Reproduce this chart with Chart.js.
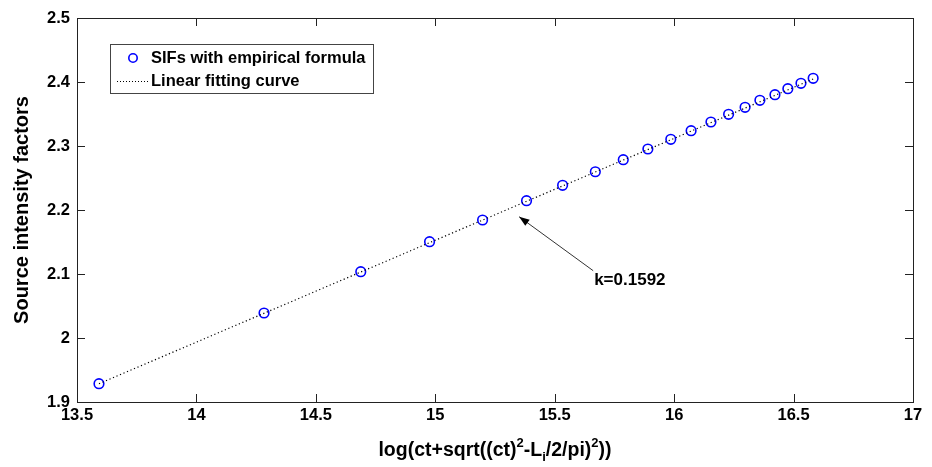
<!DOCTYPE html>
<html>
<head>
<meta charset="utf-8">
<script src="https://cdn.jsdelivr.net/npm/chart.js@4.4.0/dist/chart.umd.min.js"></script>
<style>
  html, body { margin: 0; padding: 0; background: #fff; }
  #wrap { width: 932px; height: 467px; }
</style>
</head>
<body>
<div id="wrap"><canvas id="canvas"></canvas></div>
<script>
// values
const sifX = [13.592, 14.283, 14.688, 14.976, 15.198, 15.382, 15.533, 15.670, 15.787, 15.890,
  15.986, 16.071, 16.154, 16.228, 16.297, 16.359, 16.422, 16.476, 16.531, 16.582];
const sifY = [1.9286, 2.0391, 2.1036, 2.1505, 2.1844, 2.2145, 2.2386, 2.2598, 2.2786, 2.2953,
  2.3105, 2.3239, 2.3375, 2.3495, 2.3605, 2.3714, 2.3802, 2.3895, 2.3980, 2.4058];
const fitX = [13.592, 16.582];
const fitY = [1.9286, 2.4046];

const xTicks = [13.5, 14, 14.5, 15, 15.5, 16, 16.5, 17];
const yTicks = [1.9, 2, 2.1, 2.2, 2.3, 2.4, 2.5];

const seriesNames = ['SIFs with empirical formula', 'Linear fitting curve'];
const yTitle = 'Source intensity factors';
const kLabel = 'k=0.1592';
const arrowTip = { x: 15.351, y: 2.1895 };
const arrowTail = { x: 15.661, y: 2.1052 };

const boldFont = '"Liberation Sans", Arial, sans-serif';

const toPoints = (xs, ys) => xs.map((x, i) => ({ x: x, y: ys[i] }));

// MATLAB style box, inward ticks, legend, annotation, axis titles
const extras = {
  id: 'extras',
  afterDatasetsDraw(chart) {
    const ctx = chart.ctx;
    const a = chart.chartArea;
    const xs = chart.scales.x;
    const ys = chart.scales.y;
    ctx.save();

    // box
    ctx.strokeStyle = '#222';
    ctx.lineWidth = 1;
    ctx.strokeRect(a.left + 0.5, a.top + 0.5, a.right - a.left, a.bottom - a.top);

    // inward ticks
    const tl = 8;
    ctx.beginPath();
    xTicks.forEach((t) => {
      const px = Math.round(xs.getPixelForValue(t)) + 0.5;
      ctx.moveTo(px, a.bottom); ctx.lineTo(px, a.bottom - tl);
      ctx.moveTo(px, a.top); ctx.lineTo(px, a.top + tl);
    });
    yTicks.forEach((t) => {
      const py = Math.round(ys.getPixelForValue(t)) + 0.5;
      ctx.moveTo(a.left, py); ctx.lineTo(a.left + tl, py);
      ctx.moveTo(a.right, py); ctx.lineTo(a.right - tl, py);
    });
    ctx.stroke();

    // legend
    const lx = 110, ly = 44, lw = 263, lh = 49;
    ctx.fillStyle = '#fff';
    ctx.fillRect(lx, ly, lw, lh);
    ctx.strokeStyle = '#444';
    ctx.strokeRect(lx + 0.5, ly + 0.5, lw, lh);
    ctx.strokeStyle = '#0000ff';
    ctx.lineWidth = 1.6;
    ctx.beginPath();
    ctx.arc(133, 58, 4.2, 0, Math.PI * 2);
    ctx.stroke();
    ctx.strokeStyle = '#000';
    ctx.lineWidth = 1;
    ctx.setLineDash([1, 2]);
    ctx.beginPath();
    ctx.moveTo(117, 81.5); ctx.lineTo(150, 81.5);
    ctx.stroke();
    ctx.setLineDash([]);
    ctx.fillStyle = '#000';
    ctx.font = 'bold 16.5px ' + boldFont;
    ctx.textBaseline = 'middle';
    ctx.textAlign = 'left';
    ctx.fillText(seriesNames[0], 151, 58);
    ctx.fillText(seriesNames[1], 151, 81);

    // arrow annotation
    const tx = xs.getPixelForValue(arrowTip.x), ty = ys.getPixelForValue(arrowTip.y);
    const sx = xs.getPixelForValue(arrowTail.x), sy = ys.getPixelForValue(arrowTail.y);
    ctx.strokeStyle = '#333';
    ctx.lineWidth = 1;
    ctx.beginPath();
    ctx.moveTo(sx, sy); ctx.lineTo(tx, ty);
    ctx.stroke();
    const ang = Math.atan2(ty - sy, tx - sx);
    ctx.fillStyle = '#000';
    ctx.beginPath();
    ctx.moveTo(tx, ty);
    ctx.lineTo(tx - 11 * Math.cos(ang - 0.35), ty - 11 * Math.sin(ang - 0.35));
    ctx.lineTo(tx - 11 * Math.cos(ang + 0.35), ty - 11 * Math.sin(ang + 0.35));
    ctx.closePath();
    ctx.fill();
    ctx.font = 'bold 17px ' + boldFont;
    ctx.fillText(kLabel, sx + 1, sy + 10);

    // y title
    ctx.save();
    ctx.translate(22, 210);
    ctx.rotate(-Math.PI / 2);
    ctx.textAlign = 'center';
    ctx.font = 'bold 20px ' + boldFont;
    ctx.fillText(yTitle, 0, 0);
    ctx.restore();

    // x title with super/subscripts
    const parts = [
      ['log(ct+sqrt((ct)', 0], ['2', -1], ['-L', 0], ['i', 1], ['/2/pi)', 0], ['2', -1], ['))', 0]
    ];
    const big = 'bold 19.5px ' + boldFont;
    const small = 'bold 13px ' + boldFont;
    let total = 0;
    parts.forEach((p) => {
      ctx.font = p[1] === 0 ? big : small;
      total += ctx.measureText(p[0]).width;
    });
    let cx = 495 - total / 2;
    const base = 451;
    ctx.textAlign = 'left';
    parts.forEach((p) => {
      ctx.font = p[1] === 0 ? big : small;
      const dy = p[1] === -1 ? -8 : p[1] === 1 ? 6 : 0;
      ctx.fillText(p[0], cx, base + dy);
      cx += ctx.measureText(p[0]).width;
    });

    ctx.restore();
  }
};

const config = {
  type: 'scatter',
  data: {
    datasets: [
      {
        label: seriesNames[1],
        data: toPoints(fitX, fitY),
        showLine: true,
        borderColor: '#000',
        borderWidth: 1.2,
        borderDash: [1.2, 2.6],
        pointRadius: 0,
        fill: false,
        order: 0,
      },
      {
        label: seriesNames[0],
        data: toPoints(sifX, sifY),
        showLine: false,
        pointStyle: 'circle',
        pointRadius: 4.8,
        pointBorderWidth: 1.6,
        pointBorderColor: '#0000ff',
        pointBackgroundColor: 'rgba(0,0,0,0)',
        order: 1,
      },
    ],
  },
  options: {
    responsive: true,
    maintainAspectRatio: false,
    animation: false,
    events: [],
    layout: { padding: { left: 0, top: 18, right: 19, bottom: 0 } },
    plugins: {
      legend: { display: false },
      tooltip: { enabled: false },
    },
    scales: {
      x: {
        type: 'linear',
        min: 13.5,
        max: 17,
        afterBuildTicks: (axis) => { axis.ticks = xTicks.map((v) => ({ value: v })); },
        afterFit: (axis) => { axis.height = 65; },
        grid: { display: false, drawTicks: false, tickLength: 0 },
        border: { display: false },
        ticks: {
          color: '#000',
          padding: 4,
          maxRotation: 0,
          font: { family: boldFont, size: 16.5, weight: 'bold' },
          callback: (v) => String(v),
        },
      },
      y: {
        type: 'linear',
        min: 1.9,
        max: 2.5,
        afterBuildTicks: (axis) => { axis.ticks = yTicks.map((v) => ({ value: v })); },
        afterFit: (axis) => { axis.width = 77; },
        grid: { display: false, drawTicks: false, tickLength: 0 },
        border: { display: false },
        ticks: {
          color: '#000',
          padding: 7,
          font: { family: boldFont, size: 16.5, weight: 'bold' },
          callback: (v) => String(Number(v.toFixed(1))),
        },
      },
    },
  },
  plugins: [extras],
};

const ctx = document.getElementById('canvas').getContext('2d');
window.myChart = new Chart(ctx, config);
</script>
</body>
</html>
